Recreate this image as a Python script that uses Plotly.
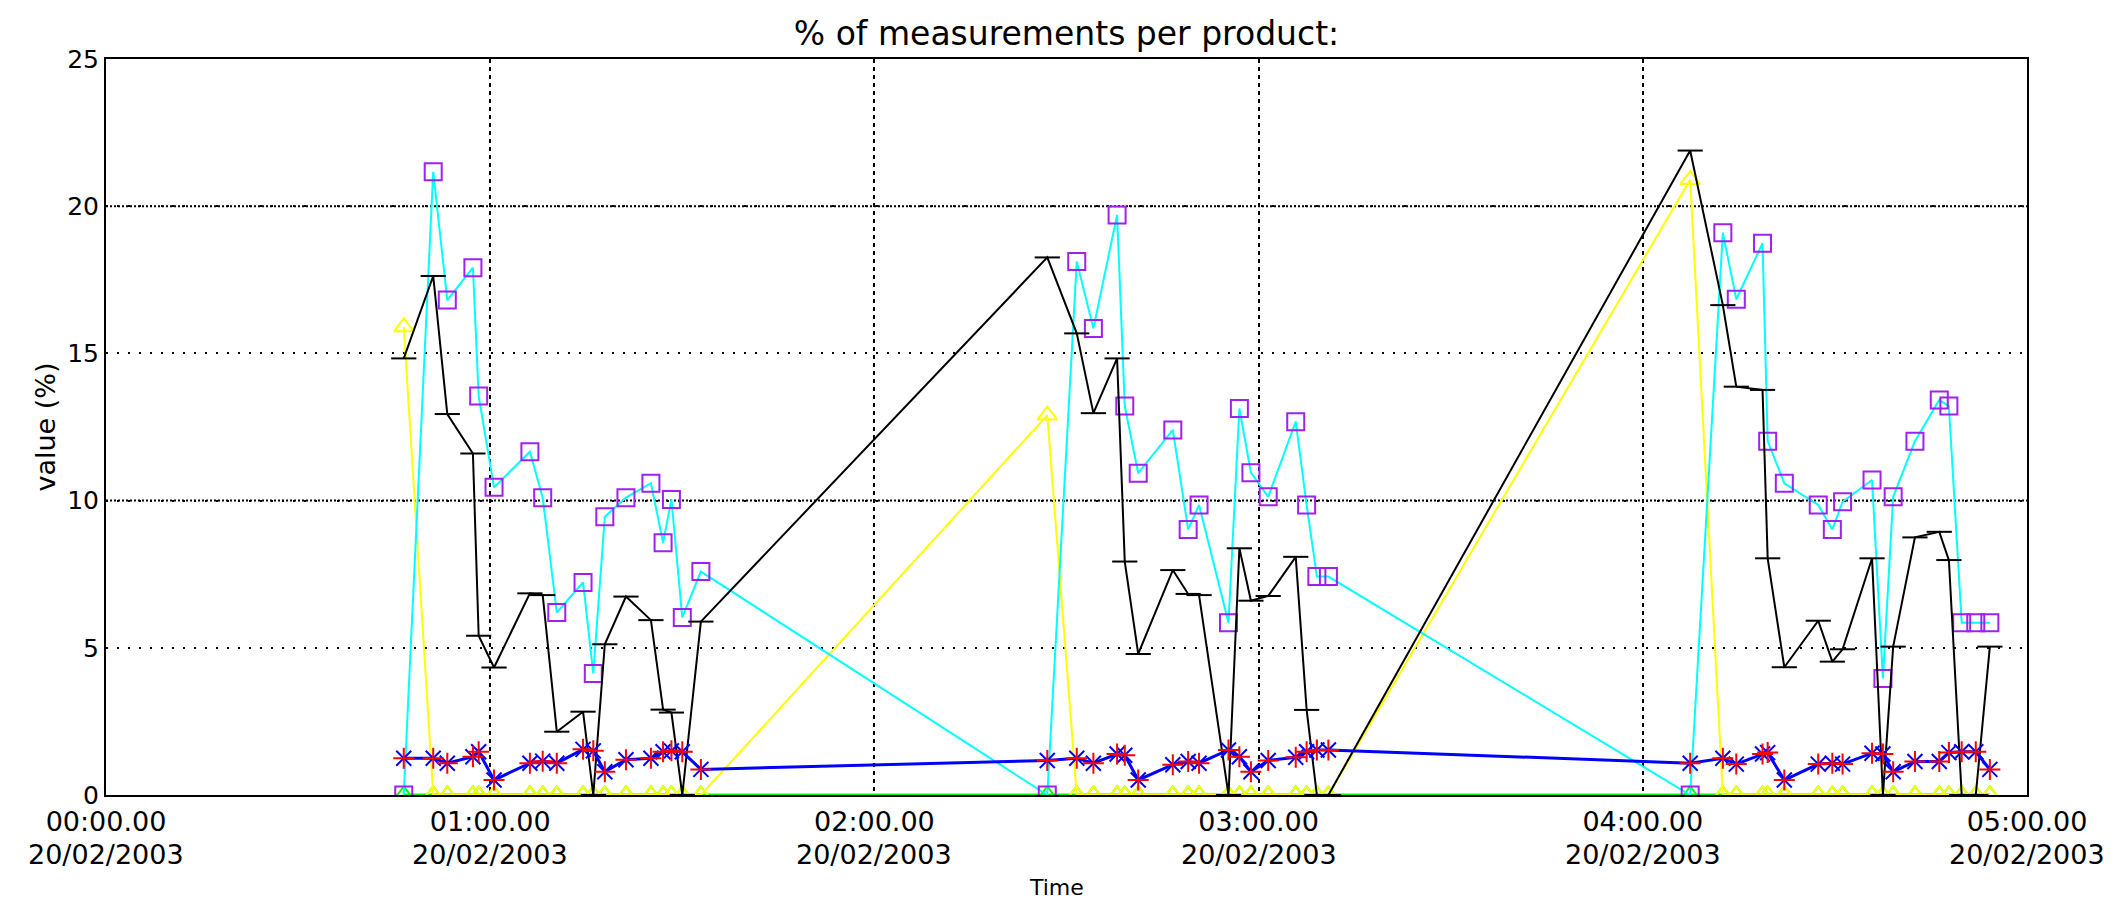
import plotly.graph_objects as go

DAY = "2003-02-20"

# sample times (three measurement blocks)
times = [
    "00:46:30", "00:51:06", "00:53:18", "00:57:18", "00:58:12", "01:00:36",
    "01:06:12", "01:08:12", "01:10:24", "01:14:30", "01:16:06", "01:17:54",
    "01:21:12", "01:25:06", "01:27:00", "01:28:18", "01:30:00", "01:32:54",
    "02:27:00", "02:31:36", "02:34:12", "02:37:54", "02:39:06", "02:41:12",
    "02:46:36", "02:49:00", "02:50:42", "02:55:18", "02:57:00", "02:58:48",
    "03:01:30", "03:05:48", "03:07:30", "03:09:06", "03:10:54",
    "04:07:24", "04:12:30", "04:14:36", "04:18:42", "04:19:30", "04:22:06",
    "04:27:24", "04:29:36", "04:31:12", "04:35:48", "04:37:30", "04:39:06",
    "04:42:30", "04:46:18", "04:47:48", "04:49:48", "04:52:00", "04:54:12",
]

cyan_pct = [
    0, 21.17, 16.81, 17.91, 13.55, 10.45, 11.66, 10.1, 6.2, 7.22, 4.13, 9.45,
    10.1, 10.59, 8.57, 10.04, 6.03, 7.59,
    0, 18.12, 15.85, 19.7, 13.21, 10.93, 12.4, 9.02, 9.85, 5.85, 13.13, 10.95,
    10.13, 12.68, 9.85, 7.42, 7.42,
    0, 19.1, 16.84, 18.74, 12.02, 10.59, 9.85, 9.02, 9.96, 10.7, 3.96, 10.13,
    12.02, 13.42, 13.21, 5.85, 5.85, 5.85,
]

black_pct = [
    14.83, 17.63, 12.94, 11.6, 5.41, 4.33, 6.85, 6.79, 2.15, 2.83, 0, 5.12,
    6.74, 5.94, 2.9, 2.8, 0, 5.89,
    18.26, 15.68, 12.97, 14.83, 7.93, 4.79, 7.64, 6.83, 6.79, 0, 8.38, 6.6,
    6.76, 8.09, 2.89, 0, 0,
    21.89, 16.64, 13.87, 13.76, 8.04, 4.34, 5.92, 4.53, 4.95, 8.04, 0, 5.04,
    8.75, 8.94, 7.98, 0, 0, 5.04,
]

blue_pct = [
    1.25, 1.25, 1.08, 1.3, 1.47, 0.51, 1.08, 1.15, 1.08, 1.55, 1.5, 0.79,
    1.2, 1.25, 1.47, 1.5, 1.47, 0.87,
    1.17, 1.25, 1.08, 1.39, 1.35, 0.51, 1.03, 1.14, 1.08, 1.53, 1.3, 0.79,
    1.17, 1.28, 1.47, 1.53, 1.53,
    1.08, 1.25, 1.05, 1.39, 1.44, 0.51, 1.05, 1.08, 1.05, 1.42, 1.39, 0.79,
    1.14, 1.14, 1.44, 1.47, 1.47, 0.87,
]

yellow_pct = [
    15.9, 0, 0, 0, 0, 0, 0, 0, 0, 0, 0, 0, 0, 0, 0, 0, 0, 0,
    12.9, 0, 0, 0, 0, 0, 0, 0, 0, 0, 0, 0, 0, 0, 0, 0, 0,
    20.9, 0, 0, 0, 0, 0, 0, 0, 0, 0, 0, 0, 0, 0, 0, 0, 0, 0,
]

green_pct = [
    0, 0, 0, 0, 0, 0, 0, 0, 0, 0, 0, 0, 0, 0, 0, 0, 0, 0,
    0, 0, 0, 0, 0, 0, 0, 0, 0, 0, 0, 0, 0, 0, 0, 0, 0,
    0, 0, 0, 0, 0, 0, 0, 0, 0, 0, 0, 0, 0, 0, 0, 0, 0, 0,
]

tick_hours = ["00:00", "01:00", "02:00", "03:00", "04:00", "05:00"]
y_ticks = [0, 5, 10, 15, 20, 25]
dense_grid = [10, 20]

x = [f"{DAY} {t}" for t in times]
tick_x = [f"{DAY} {h}:00" for h in tick_hours]
tick_text = [f"{h}.00" for h in tick_hours]
date_label = "/".join(reversed(DAY.split("-")))

fig = go.Figure()

# green sits under everything, yellow baseline drawn over it
fig.add_trace(go.Scatter(x=x, y=green_pct, mode='lines+markers',
                         line=dict(color='#00ff00', width=3),
                         marker=dict(symbol='triangle-up-open', size=17, color='#00ff00', line=dict(width=2, color='#00ff00'))))
fig.add_trace(go.Scatter(x=x, y=yellow_pct, mode='lines+markers',
                         line=dict(color='#ffff00', width=2),
                         marker=dict(symbol='triangle-up-open', size=17, color='#ffff00', line=dict(width=2, color='#ffff00'))))
fig.add_trace(go.Scatter(x=x, y=cyan_pct, mode='lines+markers',
                         line=dict(color='#00ffff', width=2),
                         marker=dict(symbol='square-open', size=17, color='#a020f0', line=dict(width=2, color='#a020f0'))))
fig.add_trace(go.Scatter(x=x, y=black_pct, mode='lines+markers',
                         line=dict(color='black', width=2),
                         marker=dict(symbol='line-ew-open', size=18, color='black', line=dict(width=2, color='black'))))
fig.add_trace(go.Scatter(x=x, y=blue_pct, mode='lines+markers',
                         line=dict(color='#0000ff', width=3),
                         marker=dict(symbol='x-thin-open', size=15, color='#0000ff', line=dict(width=2, color='#0000ff'))))
fig.add_trace(go.Scatter(x=x, y=blue_pct, mode='markers',
                         marker=dict(symbol='cross-thin-open', size=15, color='#ff0000', line=dict(width=2, color='#ff0000'))))

# denser dotted grid on the 10 / 20 lines
for v in dense_grid:
    fig.add_shape(type='line', xref='paper', yref='y', x0=0, x1=1, y0=v, y1=v,
                  line=dict(color='black', width=2, dash='2px,2px'), layer='below')

# second row of the time labels: the date
for tx in tick_x:
    fig.add_annotation(text=date_label, x=tx, xref='x', yref='paper', y=-0.0815,
                       showarrow=False, font=dict(size=27), yanchor='middle')

fig.add_annotation(text='Time', xref='paper', yref='paper', x=0.495, y=-0.125,
                   showarrow=False, font=dict(size=22), yanchor='middle')
fig.add_annotation(text='value (%)', xref='paper', yref='paper', x=-0.032, y=0.5,
                   showarrow=False, textangle=-90, font=dict(size=27), xanchor='center', yanchor='middle')

# page body has an 8px margin, so the figure is 8px smaller and shifted margins compensate
fig.update_layout(
    width=2108, height=892, autosize=False,
    margin=dict(l=98, r=89, t=51, b=105),
    paper_bgcolor='white', plot_bgcolor='white',
    showlegend=False,
    font=dict(family='DejaVu Sans', color='black', size=26),
    title=dict(text='% of measurements per product:', x=0.5, xref='paper', xanchor='center',
               y=0.972, yref='container', yanchor='middle', font=dict(size=33)),
    xaxis=dict(type='date', range=[f"{DAY} 00:00:00", f"{DAY} 05:00:00"],
               tickmode='array', tickvals=tick_x, ticktext=tick_text, ticks='',
               ticklabelstandoff=2,
               showgrid=True, gridcolor='black', gridwidth=2, griddash='4px,4px',
               showline=True, mirror=True, linecolor='black', linewidth=2, zeroline=False,
               layer='below traces', tickfont=dict(size=27)),
    yaxis=dict(range=[0, 25], tickmode='array', tickvals=y_ticks, ticks='',
               showgrid=True, gridcolor='black', gridwidth=2, griddash='2px,9px',
               showline=True, mirror=True, linecolor='black', linewidth=2, zeroline=False,
               layer='below traces', tickfont=dict(size=25)),
)

fig.write_html("out.html")
